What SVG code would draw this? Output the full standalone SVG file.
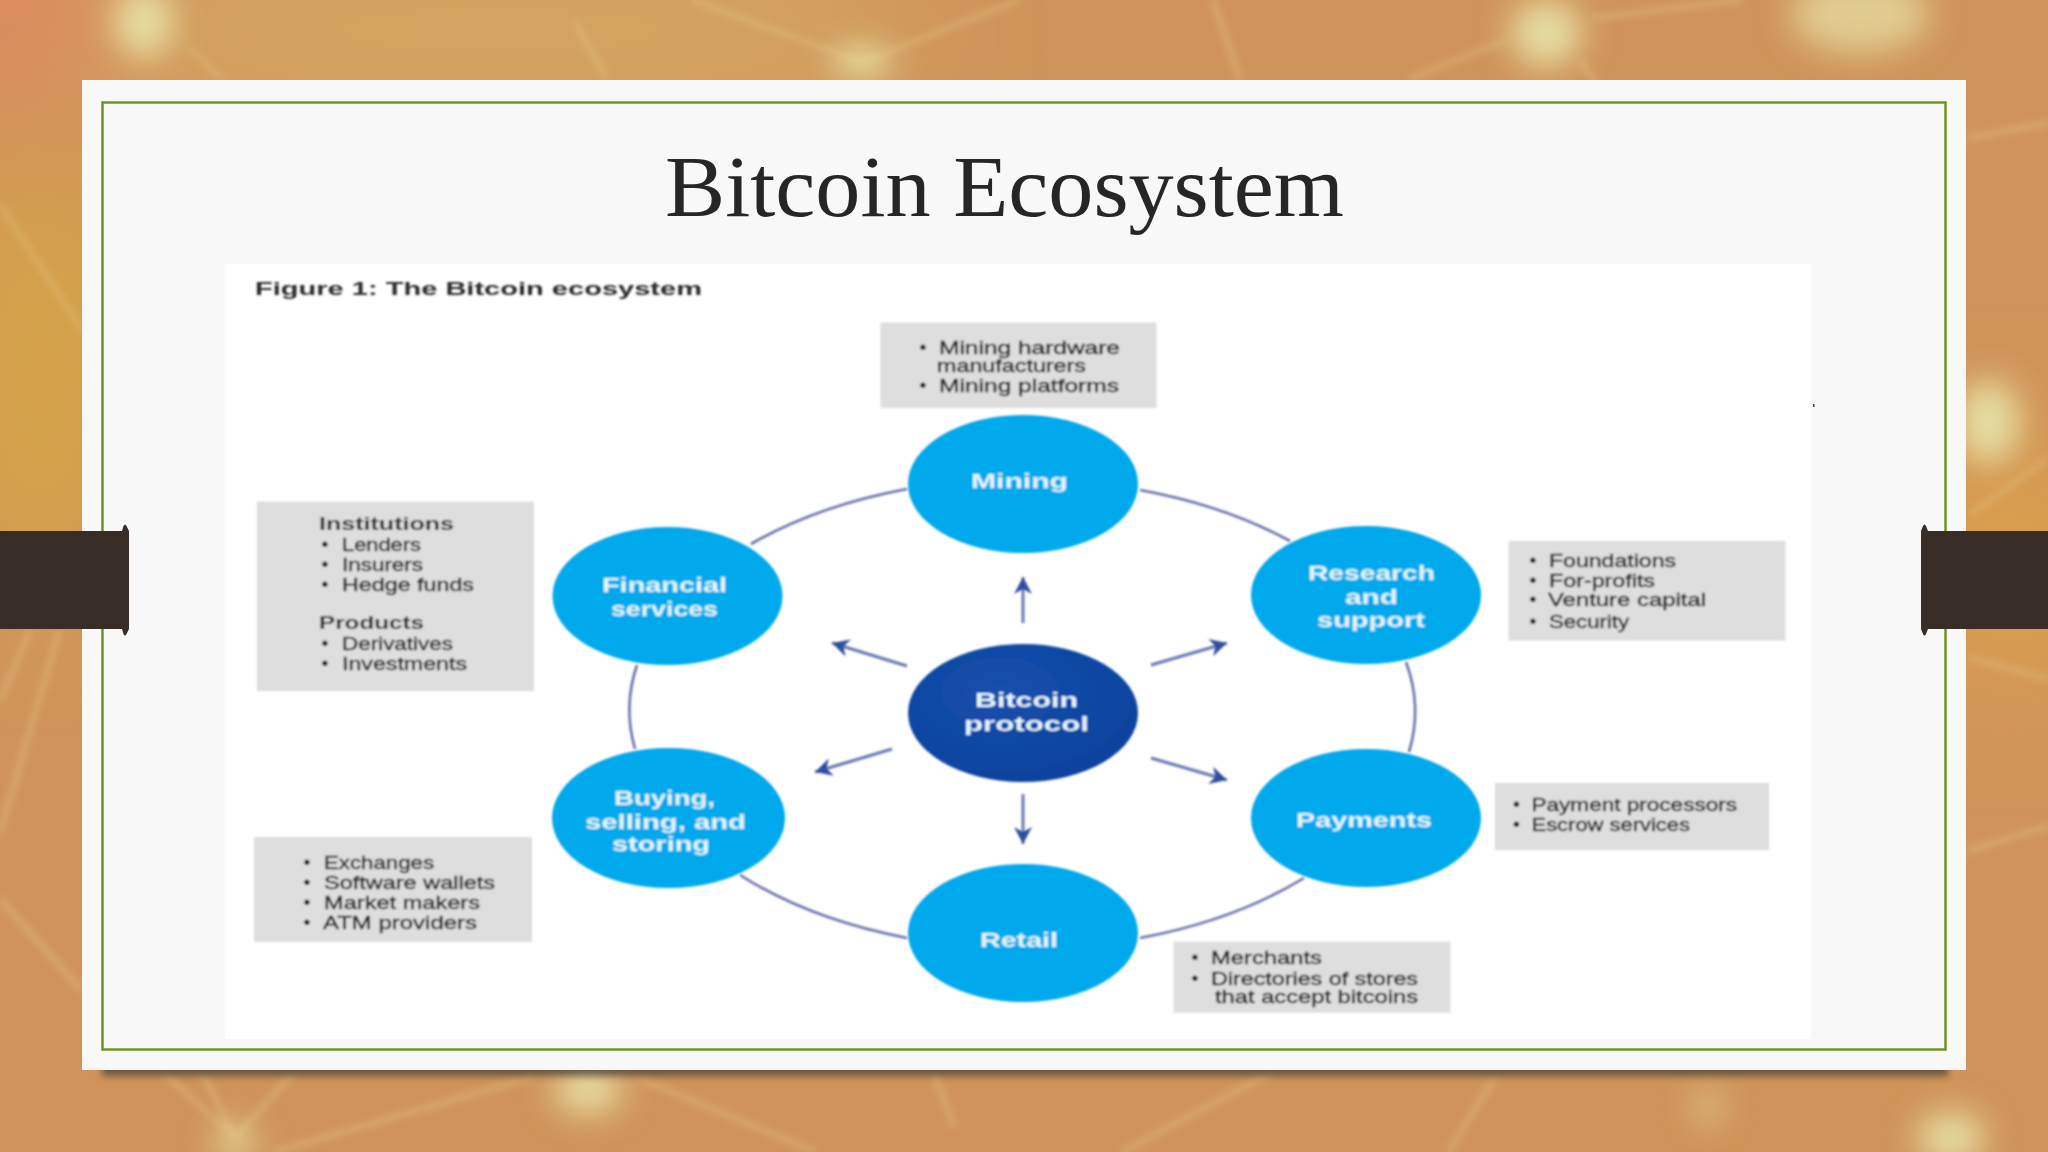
<svg xmlns="http://www.w3.org/2000/svg" width="2048" height="1152" viewBox="0 0 2048 1152">
<style>
.title{font-family:"Liberation Serif","Times New Roman",serif;font-size:87px;fill:#262626}
.cap{font-family:"Liberation Sans",Arial,sans-serif;font-size:19px;font-weight:700;fill:#2b2b2b}
.l{font-family:"Liberation Sans",Arial,sans-serif;font-size:19px;fill:#222;stroke:#222;stroke-width:.45}
.lb{font-family:"Liberation Sans",Arial,sans-serif;font-size:19px;font-weight:700;fill:#2a2a2a}
.b{font-family:"Liberation Sans",Arial,sans-serif;font-size:21px;fill:#222;text-anchor:middle}
.n{font-family:"Liberation Sans",Arial,sans-serif;font-size:21px;font-weight:700;fill:#e4f6ff}
.c{fill:#03a9ec}
.box{fill:#dedede}
.arc{fill:none;stroke:#6b70ae;stroke-width:2.6}
.ar{fill:none;stroke:#6a78b4;stroke-width:3;marker-end:url(#ah)}
.gl{stroke:#e8cf8e;stroke-opacity:.38;stroke-width:5;fill:none}
.nd{fill:#e6dda2}
.band{fill:#382d27}
</style>
<defs>
<marker id="ah" markerUnits="userSpaceOnUse" markerWidth="30" markerHeight="30" refX="20" refY="12" orient="auto">
<path d="M3 3 L20 12 L3 21 L8 12 Z" fill="#2f4f9f"/>
</marker>
<filter id="b1" filterUnits="userSpaceOnUse" x="200" y="250" width="1640" height="800"><feGaussianBlur stdDeviation="0.8"/></filter>
<filter id="b4" filterUnits="userSpaceOnUse" x="0" y="0" width="2048" height="1152"><feGaussianBlur stdDeviation="3.500"/></filter>
<filter id="b14" filterUnits="userSpaceOnUse" x="0" y="0" width="2048" height="1152"><feGaussianBlur stdDeviation="16"/></filter>
<filter id="b60" filterUnits="userSpaceOnUse" x="-200" y="-200" width="2448" height="1552"><feGaussianBlur stdDeviation="60"/></filter>
<radialGradient id="pg" cx="0.4" cy="0.35" r="0.8"><stop offset="0" stop-color="#1450ad"/><stop offset="1" stop-color="#0d3f9a"/></radialGradient>
</defs>

<g id="background">
<rect width="2048" height="1152" fill="#d0945a"/>
<g filter="url(#b60)">
<ellipse cx="0" cy="0" rx="120" ry="90" fill="#dd8a60"/>
<ellipse cx="500" cy="30" rx="420" ry="70" fill="#d6a862"/>
<ellipse cx="40" cy="380" rx="110" ry="220" fill="#d4a24a"/>
<ellipse cx="2010" cy="560" rx="90" ry="120" fill="#dca04a"/>
</g>
<g filter="url(#b4)">
<path class="gl" d="M692 0L862 62L1019 0M575 22L607 79M190 48L222 79M0 205L82 330M1213 0L1240 79M1507 40L1409 79M1580 60L1600 90M1592 18L1742 0M1968 138L2048 123M1968 657L2048 679M1968 851L2048 826M1970 514L2048 459M0 899L82 991M59 631L0 833M30 631L0 700M235 1138L163 1072M235 1138L202 1072M235 1138L294 1072M274 1152L535 1076M640 1079L816 1152M934 1072L954 1127M1272 1072L1122 1152M1494 1079L1448 1152"/>
</g>
<g filter="url(#b14)">
<ellipse class="nd" cx="144" cy="22" rx="30" ry="36"/>
<ellipse class="nd" cx="862" cy="62" rx="32" ry="16"/>
<ellipse class="nd" cx="1546" cy="33" rx="36" ry="34"/>
<ellipse class="nd" cx="1860" cy="14" rx="70" ry="40" opacity=".75"/>
<ellipse class="nd" cx="1988" cy="422" rx="32" ry="42"/>
<ellipse class="nd" cx="588" cy="1090" rx="34" ry="24"/>
<ellipse class="nd" cx="235" cy="1142" rx="20" ry="16"/>
<ellipse class="nd" cx="1708" cy="1107" rx="10" ry="16"/>
<ellipse class="nd" cx="1951" cy="1138" rx="34" ry="26"/>
</g>
</g>

<g id="slide">
<rect x="102" y="1060" width="1846" height="16" fill="#4a4038" opacity=".75" filter="url(#b4)"/>
<rect x="82" y="80" width="1884" height="990" fill="#f8f8f9"/>
<rect x="102.500" y="102.500" width="1843" height="947" fill="none" stroke="#6f9426" stroke-width="2.500"/>
<rect x="225" y="264" width="1586" height="775" fill="#ffffff"/>
<rect x="1813" y="404" width="1.500" height="3" fill="#444"/>
<text class="title" x="665" y="216" textLength="679" lengthAdjust="spacingAndGlyphs">Bitcoin Ecosystem</text>
</g>

<g id="tabs">
<rect class="band" x="0" y="531" width="129" height="98"/>
<path class="band" d="M122 531L123.500 526Q125 523 126.500 526L129 531ZM122 629L123.500 634Q125 637 126.500 634L129 629Z"/>
<rect class="band" x="1921" y="531" width="127" height="98"/>
<path class="band" d="M1921 531L1923 526Q1924.500 523 1926 526L1928 531ZM1921 629L1923 634Q1924.500 637 1926 634L1928 629Z"/>
</g>

<g id="figure" filter="url(#b1)">
<text class="cap" x="255" y="295" textLength="447" lengthAdjust="spacingAndGlyphs">Figure 1: The Bitcoin ecosystem</text>

<g id="connectors">
<path class="arc" d="M907 489A392 231 0 0 0 751 544"/>
<path class="arc" d="M1140 490A392 231 0 0 1 1290 541"/>
<path class="arc" d="M1406 662A392 231 0 0 1 1409 752"/>
<path class="arc" d="M1304 878A392 231 0 0 1 1140 938"/>
<path class="arc" d="M907 938A392 231 0 0 1 740 875"/>
<path class="arc" d="M635 749A392 231 0 0 1 637 665"/>
<path class="ar" d="M1023 623L1023 577"/>
<path class="ar" d="M1023 794L1023 844"/>
<path class="ar" d="M907 666L832 643"/>
<path class="ar" d="M1151 665L1227 643"/>
<path class="ar" d="M892 749L815 772"/>
<path class="ar" d="M1151 758L1227 780"/>
</g>

<g id="node-mining">
<ellipse class="c" cx="1023" cy="484" rx="115" ry="69"/>
<text class="n" x="971" y="488" textLength="97" lengthAdjust="spacingAndGlyphs">Mining</text>
</g>
<g id="node-financial">
<ellipse class="c" cx="667.500" cy="596" rx="115" ry="69"/>
<text class="n" x="602" y="592" textLength="125" lengthAdjust="spacingAndGlyphs">Financial</text>
<text class="n" x="611" y="616" textLength="107" lengthAdjust="spacingAndGlyphs">services</text>
</g>
<g id="node-research">
<ellipse class="c" cx="1366" cy="595" rx="115" ry="69"/>
<text class="n" x="1308" y="580" textLength="127" lengthAdjust="spacingAndGlyphs">Research</text>
<text class="n" x="1345" y="604" textLength="53" lengthAdjust="spacingAndGlyphs">and</text>
<text class="n" x="1317" y="627" textLength="108" lengthAdjust="spacingAndGlyphs">support</text>
</g>
<g id="node-protocol">
<ellipse cx="1023" cy="713" rx="115" ry="69" fill="url(#pg)"/>
<text class="n" x="975" y="707" textLength="103" lengthAdjust="spacingAndGlyphs">Bitcoin</text>
<text class="n" x="964" y="731" textLength="125" lengthAdjust="spacingAndGlyphs">protocol</text>
</g>
<g id="node-buying">
<ellipse class="c" cx="668.500" cy="818" rx="116.500" ry="70"/>
<text class="n" x="614" y="805" textLength="101" lengthAdjust="spacingAndGlyphs">Buying,</text>
<text class="n" x="585" y="829" textLength="161" lengthAdjust="spacingAndGlyphs">selling, and</text>
<text class="n" x="612" y="851" textLength="98" lengthAdjust="spacingAndGlyphs">storing</text>
</g>
<g id="node-payments">
<ellipse class="c" cx="1366" cy="818" rx="115" ry="69"/>
<text class="n" x="1296" y="827" textLength="136" lengthAdjust="spacingAndGlyphs">Payments</text>
</g>
<g id="node-retail">
<ellipse class="c" cx="1023" cy="933" rx="115" ry="69"/>
<text class="n" x="980" y="947" textLength="78" lengthAdjust="spacingAndGlyphs">Retail</text>
</g>

<g id="box-mining">
<rect class="box" x="880.500" y="322.500" width="276" height="85.500"/>
<text class="b" x="923" y="354">•</text>
<text class="l" x="939" y="354" textLength="181" lengthAdjust="spacingAndGlyphs">Mining hardware</text>
<text class="l" x="937" y="372" textLength="149" lengthAdjust="spacingAndGlyphs">manufacturers</text>
<text class="b" x="923" y="392">•</text>
<text class="l" x="939" y="392" textLength="180" lengthAdjust="spacingAndGlyphs">Mining platforms</text>
</g>
<g id="box-financial">
<rect class="box" x="257" y="501.500" width="277" height="189.500"/>
<text class="lb" x="319" y="530" textLength="135" lengthAdjust="spacingAndGlyphs">Institutions</text>
<text class="b" x="325" y="551">•</text>
<text class="l" x="342" y="551" textLength="79" lengthAdjust="spacingAndGlyphs">Lenders</text>
<text class="b" x="325" y="571">•</text>
<text class="l" x="342" y="571" textLength="81" lengthAdjust="spacingAndGlyphs">Insurers</text>
<text class="b" x="325" y="591">•</text>
<text class="l" x="342" y="591" textLength="132" lengthAdjust="spacingAndGlyphs">Hedge funds</text>
<text class="lb" x="319" y="629" textLength="105" lengthAdjust="spacingAndGlyphs">Products</text>
<text class="b" x="325" y="650">•</text>
<text class="l" x="342" y="650" textLength="111" lengthAdjust="spacingAndGlyphs">Derivatives</text>
<text class="b" x="325" y="670">•</text>
<text class="l" x="342" y="670" textLength="125" lengthAdjust="spacingAndGlyphs">Investments</text>
</g>
<g id="box-buying">
<rect class="box" x="254" y="837" width="278" height="105"/>
<text class="b" x="307" y="869">•</text>
<text class="l" x="324" y="869" textLength="110" lengthAdjust="spacingAndGlyphs">Exchanges</text>
<text class="b" x="307" y="889">•</text>
<text class="l" x="324" y="889" textLength="171" lengthAdjust="spacingAndGlyphs">Software wallets</text>
<text class="b" x="307" y="909">•</text>
<text class="l" x="324" y="909" textLength="156" lengthAdjust="spacingAndGlyphs">Market makers</text>
<text class="b" x="307" y="929">•</text>
<text class="l" x="323" y="929" textLength="154" lengthAdjust="spacingAndGlyphs">ATM providers</text>
</g>
<g id="box-research">
<rect class="box" x="1508.500" y="541" width="277" height="99.500"/>
<text class="b" x="1533" y="567">•</text>
<text class="l" x="1549" y="567" textLength="127" lengthAdjust="spacingAndGlyphs">Foundations</text>
<text class="b" x="1533" y="587">•</text>
<text class="l" x="1549" y="587" textLength="106" lengthAdjust="spacingAndGlyphs">For-profits</text>
<text class="b" x="1533" y="606">•</text>
<text class="l" x="1548" y="606" textLength="158" lengthAdjust="spacingAndGlyphs">Venture capital</text>
<text class="b" x="1533" y="628">•</text>
<text class="l" x="1549" y="628" textLength="80" lengthAdjust="spacingAndGlyphs">Security</text>
</g>
<g id="box-payments">
<rect class="box" x="1495" y="783" width="274" height="67"/>
<text class="b" x="1516.500" y="811">•</text>
<text class="l" x="1531.500" y="811" textLength="205.500" lengthAdjust="spacingAndGlyphs">Payment processors</text>
<text class="b" x="1516.500" y="831">•</text>
<text class="l" x="1531.500" y="831" textLength="158.500" lengthAdjust="spacingAndGlyphs">Escrow services</text>
</g>
<g id="box-retail">
<rect class="box" x="1173.500" y="941.500" width="277" height="71"/>
<text class="b" x="1195" y="964">•</text>
<text class="l" x="1211" y="964" textLength="111" lengthAdjust="spacingAndGlyphs">Merchants</text>
<text class="b" x="1195" y="985">•</text>
<text class="l" x="1211" y="985" textLength="207" lengthAdjust="spacingAndGlyphs">Directories of stores</text>
<text class="l" x="1215" y="1003" textLength="203" lengthAdjust="spacingAndGlyphs">that accept bitcoins</text>
</g>
</g>
</svg>
